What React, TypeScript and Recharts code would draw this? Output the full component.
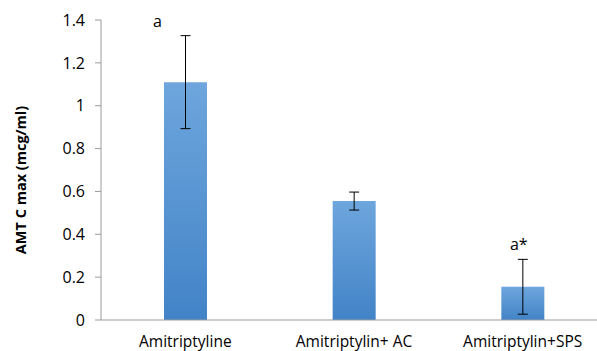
import { Bar, BarChart, ErrorBar, LabelList, XAxis, YAxis } from "recharts";

const groups = ["Amitriptyline", "Amitriptylin+ AC", "Amitriptylin+SPS"];
const cmax = [1.11, 0.555, 0.155];
const sd = [0.217, 0.042, 0.128];
const marks = ["a", "", "a*"];
const yTicks = [0, 0.2, 0.4, 0.6, 0.8, 1, 1.2, 1.4];
const yTitle = "AMT C max (mcg/ml)";

const rows = groups.map((g, i) => ({ group: g, cmax: cmax[i], sd: sd[i], mark: marks[i] }));

const font = "Open Sans, sans-serif";

function MarkLabel(props: any) {
  const { x, y, width, height, index } = props;
  const text = marks[index];
  if (!text) return null;
  // pixel per unit from the bar itself, so the mark sits above the error cap
  const perUnit = height / cmax[index];
  const capY = y - sd[index] * perUnit;
  const dx = index === 0 ? -28 : -4;
  return (
    <text x={x + width / 2 + dx} y={capY - 9} textAnchor="middle" fontFamily={font} fontSize={16} fill="#000">
      {text}
    </text>
  );
}

function YTitle(props: any) {
  const vb = props.viewBox;
  const cx = vb.x + 20;
  const cy = vb.y + vb.height / 2 + 10;
  return (
    <text
      x={cx}
      y={cy}
      transform={`rotate(-90 ${cx} ${cy})`}
      textAnchor="middle"
      dominantBaseline="central"
      fontFamily={font}
      fontWeight="bold"
      fontSize={14.5}
      fill="#000"
    >
      {yTitle}
    </text>
  );
}

export default function App() {
  return (
    <div style={{ position: "fixed", left: 0, top: 0, width: 597, height: 351, overflow: "hidden", background: "#fff" }}>
      <BarChart width={607} height={351} data={rows} margin={{ top: 20, right: 0, bottom: 0, left: 0 }} barSize={43}>
        <defs>
          <linearGradient id="barFill" x1="0" y1="0" x2="0" y2="1">
            <stop offset="0%" stopColor="#6ea6dd" />
            <stop offset="100%" stopColor="#4283c7" />
          </linearGradient>
        </defs>
        <XAxis
          dataKey="group"
          height={31}
          tickLine={false}
          stroke="#9a9a9a"
          tickMargin={10}
          tick={{ fill: "#000", fontSize: 15.5, fontFamily: font }}
        />
        <YAxis
          width={101}
          domain={[0, 1.4]}
          ticks={yTicks}
          stroke="#9a9a9a"
          tickSize={6}
          tickMargin={10}
          tick={{ fill: "#000", fontSize: 16, fontFamily: font }}
          label={{ content: YTitle }}
        />
        <Bar dataKey="cmax" fill="url(#barFill)" isAnimationActive={false}>
          <ErrorBar dataKey="sd" width={5} stroke="#000" strokeWidth={1} isAnimationActive={false} />
          <LabelList dataKey="mark" content={MarkLabel} />
        </Bar>
      </BarChart>
    </div>
  );
}
